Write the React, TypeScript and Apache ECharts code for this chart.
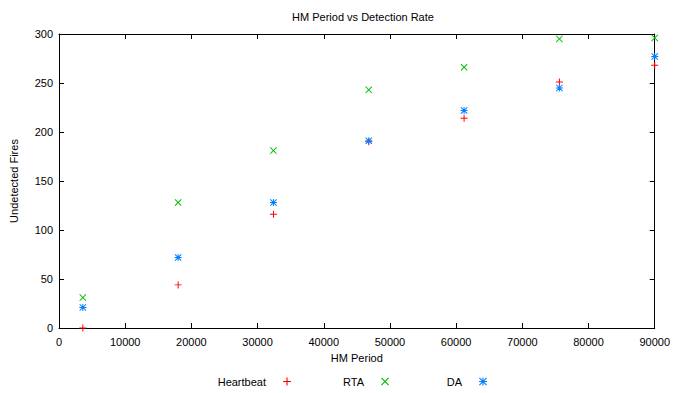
import React, { useEffect, useRef } from "react";
import * as echarts from "echarts";

const hmPeriods = [3600, 18000, 32400, 46800, 61200, 75600, 90000];
const heartbeat = [0, 44, 116, 190, 214, 251, 268];
const rta = [31, 128, 181, 243, 266, 295, 296];
const da = [21, 72, 128, 191, 222, 245, 277];

const seriesNames = ["Heartbeat", "RTA", "DA"];
const seriesColors = ["#ff0000", "#00c000", "#0080ff"];

const PLUS = "path://M4.3,0H5.7V4.3H10V5.7H5.7V10H4.3V5.7H0V4.3H4.3Z";
const CROSS = "path://M0,1L1,0L5,4L9,0L10,1L6,5L10,9L9,10L5,6L1,10L0,9L4,5Z";
const STAR =
  "path://M4.3,0H5.7V4.3H10V5.7H5.7V10H4.3V5.7H0V4.3H4.3Z M0,1L1,0L5,4L9,0L10,1L6,5L10,9L9,10L5,6L1,10L0,9L4,5Z";

const FONT = "'Liberation Sans', Arial, Helvetica, sans-serif";

export default function App() {
  const ref = useRef<HTMLDivElement>(null);
  useEffect(() => {
    if (!ref.current) return;
    const chart = echarts.init(ref.current, undefined, { renderer: "svg" });
    const values = [heartbeat, rta, da];
    const symbols = [PLUS, CROSS, STAR];
    const legendRights = [382, 284, 186];
    const axisCommon = {
      axisLine: { show: true, onZero: false, lineStyle: { color: "#000", width: 1 } },
      axisTick: { show: true, inside: true, length: 5, lineStyle: { color: "#000" } },
      splitLine: { show: false },
    };
    chart.setOption({
      animation: false,
      title: {
        text: "HM Period vs Detection Rate",
        left: 358,
        textAlign: "center",
        top: 6,
        textStyle: { fontSize: 11, fontWeight: "normal", color: "#000", fontFamily: FONT },
      },
      legend: seriesNames.map((n, i) => ({
        data: [n],
        right: legendRights[i],
        top: 376,
        align: "right",
        padding: 0,
        itemWidth: 8,
        itemHeight: 8,
        textStyle: { fontSize: 11, color: "#000", fontFamily: FONT, padding: [0, 12, 0, 0] },
      })),
      grid: { left: 59, right: 16, top: 34, bottom: 65, containLabel: false },
      xAxis: [
        {
          type: "value",
          min: 0,
          max: 90000,
          interval: 10000,
          position: "bottom",
          name: "HM Period",
          nameLocation: "middle",
          nameGap: 24,
          nameTextStyle: { fontSize: 11, color: "#000", fontFamily: FONT },
          axisLabel: {
            fontSize: 11,
            color: "#000",
            fontFamily: FONT,
            margin: 8,
            formatter: (v: number) => String(v),
          },
          ...axisCommon,
        },
        {
          type: "value",
          min: 0,
          max: 90000,
          interval: 10000,
          position: "top",
          axisLabel: { show: false },
          ...axisCommon,
        },
      ],
      yAxis: [
        {
          type: "value",
          min: 0,
          max: 300,
          interval: 50,
          position: "left",
          name: "Undetected Fires",
          nameLocation: "middle",
          nameGap: 40,
          nameTextStyle: { fontSize: 11, color: "#000", fontFamily: FONT },
          axisLabel: { fontSize: 11, color: "#000", fontFamily: FONT, margin: 6 },
          ...axisCommon,
        },
        {
          type: "value",
          min: 0,
          max: 300,
          interval: 50,
          position: "right",
          axisLabel: { show: false },
          ...axisCommon,
        },
      ],
      series: seriesNames.map((n, i) => ({
        name: n,
        type: "scatter",
        xAxisIndex: 0,
        yAxisIndex: 0,
        symbol: symbols[i],
        symbolSize: 7,
        clip: false,
        itemStyle: { color: seriesColors[i], opacity: 1 },
        data: hmPeriods.map((x, j) => [x, values[i][j]]),
      })),
    });
    return () => chart.dispose();
  }, []);
  return <div ref={ref} style={{ width: 673, height: 393, position: "absolute", left: 0, top: 0 }} />;
}
